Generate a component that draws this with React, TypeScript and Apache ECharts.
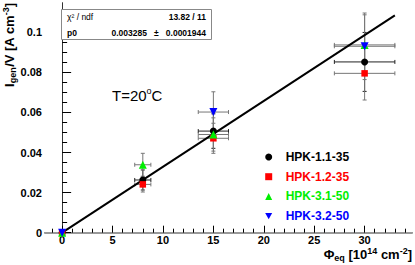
import React, { useEffect, useRef } from "react";
import * as echarts from "echarts";

// ---------- data ----------
const fluence = [0, 8, 15, 30];
const fluenceErr = [0, 0.8, 1.5, 3];

const seriesNames = ["HPK-1.1-35", "HPK-1.2-35", "HPK-3.1-50", "HPK-3.2-50"];
const seriesColors = ["#000000", "#ff0000", "#00ee00", "#0000ff"];
const errColors = ["#222222", "#777777", "#777777", "#777777"];

const hpk11 = [0, 0.0263, 0.0507, 0.0852];
const hpk11Err = [0, 0.005, 0.0086, 0.0147];
const hpk12 = [0, 0.0241, 0.0471, 0.0795];
const hpk12Err = [0, 0.0038, 0.0075, 0.0133];
const hpk31 = [0, 0.0339, 0.049, 0.0937];
const hpk31Err = [0, 0.0057, 0.0083, 0.015];
const hpk32 = [0, null, 0.0602, 0.093];
const hpk32Err = [0, 0, 0.0101, 0.0166];

const fitX = [0, 33];
const fitY = [0, 0.1084];

const xTickLabels = [0, 5, 10, 15, 20, 25, 30];
const yTickLabels = [0, 0.02, 0.04, 0.06, 0.08, 0.1];

const FONT = "'Liberation Sans', Arial, Helvetica, sans-serif";

const X_MIN = -1.7;
const X_MAX = 34.7;
const Y_MIN = 0;
const Y_MAX = 0.1146;

export default function App() {
  const ref = useRef<HTMLDivElement>(null);

  useEffect(() => {
    const chart = echarts.init(ref.current!, null, { renderer: "svg" });

    const ys = [hpk11, hpk12, hpk31, hpk32];
    const errs = [hpk11Err, hpk12Err, hpk31Err, hpk32Err];
    const symbols = ["circle", "rect", "triangle", "path://M0,0L10,0L5,9Z"];
    const symbolSizes = [7, 6.5, 8, 8];

    const xMinor: number[] = [];
    for (let v = -1; v <= 34; v++) if (v % 5 !== 0) xMinor.push(v);
    const yMinor: number[] = [];
    for (let k = 1; k <= 22; k++) if (k % 4 !== 0) yMinor.push(+(k * 0.005).toFixed(3));

    const errSeries = ys.map((yv, si) => ({
      type: "custom",
      name: seriesNames[si] + "-err",
      xAxisIndex: 0,
      yAxisIndex: 0,
      silent: true,
      z: 1,
      data: fluence
        .map((x, i) => [x, yv[i], fluenceErr[i], errs[si][i]])
        .filter((d) => d[1] !== null),
      encode: { x: 0, y: 1 },
      renderItem: (params: any, api: any) => {
        const x = api.value(0);
        const y = api.value(1);
        const xe = api.value(2);
        const ye = api.value(3);
        const children: any[] = [];
        const style = { stroke: errColors[si], lineWidth: 1 };
        const cap = 2;
        if (xe > 0) {
          const l = api.coord([x - xe, y]);
          const r = api.coord([x + xe, y]);
          children.push({ type: "line", shape: { x1: l[0], y1: l[1], x2: r[0], y2: r[1] }, style });
          children.push({ type: "line", shape: { x1: l[0], y1: l[1] - cap, x2: l[0], y2: l[1] + cap }, style });
          children.push({ type: "line", shape: { x1: r[0], y1: r[1] - cap, x2: r[0], y2: r[1] + cap }, style });
        }
        if (ye > 0) {
          const t = api.coord([x, y + ye]);
          const b = api.coord([x, y - ye]);
          children.push({ type: "line", shape: { x1: t[0], y1: t[1], x2: b[0], y2: b[1] }, style });
          children.push({ type: "line", shape: { x1: t[0] - cap, y1: t[1], x2: t[0] + cap, y2: t[1] }, style });
          children.push({ type: "line", shape: { x1: b[0] - cap, y1: b[1], x2: b[0] + cap, y2: b[1] }, style });
        }
        return { type: "group", children };
      },
    }));

    const fitSeries = {
      type: "line",
      name: "fit",
      xAxisIndex: 0,
      yAxisIndex: 0,
      z: 2,
      showSymbol: false,
      silent: true,
      data: fitX.map((x, i) => [x, fitY[i]]),
      lineStyle: { color: "#000", width: 2 },
    };

    const pointSeries = ys.map((yv, si) => ({
      type: "scatter",
      name: seriesNames[si],
      xAxisIndex: 0,
      yAxisIndex: 0,
      z: 3,
      symbol: symbols[si],
      symbolSize: symbolSizes[si],
      itemStyle: { color: seriesColors[si], opacity: 1 },
      data: fluence.map((x, i) => [x, yv[i]]).filter((d) => d[1] !== null),
    }));

    const richMain = (size: number, weight: string) => ({
      m: { fontSize: size, fontWeight: weight, fontFamily: FONT, lineHeight: 16, fill: "#000" },
      s: { fontSize: 9, fontWeight: weight, fontFamily: FONT, lineHeight: 10, verticalAlign: "bottom" },
      p: { fontSize: 9, fontWeight: weight, fontFamily: FONT, lineHeight: 10, verticalAlign: "top" },
    });

    const option: any = {
      animation: false,
      backgroundColor: "#ffffff",
      grid: { left: 45, right: 3, top: 3, bottom: 32.3, containLabel: false },
      xAxis: [
        {
          type: "value",
          min: X_MIN,
          max: X_MAX,
          position: "bottom",
          axisLine: { show: true, lineStyle: { color: "#000", width: 1 } },
          axisTick: { show: true, inside: true, length: 7, customValues: xTickLabels, lineStyle: { color: "#000" } },
          axisLabel: {
            show: true,
            customValues: xTickLabels,
            margin: 2,
            fontSize: 11,
            fontWeight: "bold",
            fontFamily: FONT,
            color: "#000",
          },
          splitLine: { show: false },
        },
        {
          type: "value",
          min: X_MIN,
          max: X_MAX,
          position: "bottom",
          axisLine: { show: false },
          axisTick: { show: true, inside: true, length: 4, customValues: xMinor, lineStyle: { color: "#000" } },
          axisLabel: { show: false },
          splitLine: { show: false },
        },
        {
          type: "value",
          min: X_MIN,
          max: X_MAX,
          position: "top",
          axisLine: { show: true, lineStyle: { color: "#999", width: 2 } },
          axisTick: { show: false },
          axisLabel: { show: false },
          splitLine: { show: false },
        },
      ],
      yAxis: [
        {
          type: "value",
          min: Y_MIN,
          max: Y_MAX,
          position: "left",
          axisLine: { show: true, lineStyle: { color: "#000", width: 1 } },
          axisTick: { show: true, inside: true, length: 9, customValues: yTickLabels, lineStyle: { color: "#000" } },
          axisLabel: {
            show: true,
            customValues: yTickLabels,
            margin: 3,
            fontSize: 11,
            fontWeight: "bold",
            fontFamily: FONT,
            color: "#000",
            formatter: (v: number) => String(+Number(v).toFixed(3)),
          },
          splitLine: { show: false },
        },
        {
          type: "value",
          min: Y_MIN,
          max: Y_MAX,
          position: "left",
          axisLine: { show: false },
          axisTick: { show: true, inside: true, length: 5, customValues: yMinor, lineStyle: { color: "#000" } },
          axisLabel: { show: false },
          splitLine: { show: false },
        },
        {
          type: "value",
          min: Y_MIN,
          max: Y_MAX,
          position: "right",
          axisLine: { show: true, lineStyle: { color: "#333", width: 1 } },
          axisTick: { show: false },
          axisLabel: { show: false },
          splitLine: { show: false },
        },
      ],
      legend: {
        show: true,
        orient: "vertical",
        left: 260.2,
        top: 145,
        itemWidth: 7,
        itemHeight: 7,
        itemGap: 5.7,
        selectedMode: false,
        textStyle: {
          fontSize: 12,
          fontWeight: "bold",
          fontFamily: FONT,
          lineHeight: 14,
          padding: [0, 0, 0, 8.5],
        },
        data: seriesNames.map((n, i) => ({
          name: n,
          icon: symbols[i],
          itemStyle: { color: seriesColors[i] },
          textStyle: { color: seriesColors[i] },
        })),
      },
      graphic: [
        {
          type: "rect",
          shape: { x: 61.5, y: 9.5, width: 150, height: 30 },
          style: { fill: "#fff", stroke: "#888", lineWidth: 1 },
          z: 10,
        },
        {
          type: "text",
          x: 67,
          y: 16.5,
          z: 11,
          style: { text: "χ² / ndf", fontSize: 8.5, fontFamily: FONT, fill: "#000", align: "left", verticalAlign: "middle" },
        },
        {
          type: "text",
          x: 206,
          y: 16.5,
          z: 11,
          style: { text: "13.82 / 11", fontSize: 8.5, fontWeight: "bold", fontFamily: FONT, fill: "#000", align: "right", verticalAlign: "middle" },
        },
        {
          type: "text",
          x: 67,
          y: 32.5,
          z: 11,
          style: { text: "p0", fontSize: 8.5, fontWeight: "bold", fontFamily: FONT, fill: "#000", align: "left", verticalAlign: "middle" },
        },
        {
          type: "text",
          x: 206,
          y: 32.5,
          z: 11,
          style: { text: "0.003285   ±   0.0001944", fontSize: 8.5, fontWeight: "bold", fontFamily: FONT, fill: "#000", align: "right", verticalAlign: "middle" },
        },
        {
          type: "text",
          x: 112,
          y: 95,
          z: 11,
          style: {
            text: "{m|T=20}{p|o}{m|C}",
            align: "left",
            verticalAlign: "middle",
            rich: {
              m: { fontSize: 15, fontFamily: FONT, lineHeight: 18, fill: "#000" },
              p: { fontSize: 9, fontFamily: FONT, lineHeight: 11, verticalAlign: "top", fill: "#000" },
            },
          },
        },
        {
          type: "text",
          x: 412,
          y: 254.5,
          z: 11,
          style: {
            text: "{m|Φ}{s|eq}{m| [10}{p|14}{m| cm}{p|-2}{m|]}",
            align: "right",
            verticalAlign: "middle",
            rich: richMain(13, "bold"),
          },
        },
        {
          type: "text",
          x: 9.5,
          y: 3,
          rotation: Math.PI / 2,
          z: 11,
          style: {
            text: "{m|I}{s|gen}{m|/V [A cm}{p|-3}{m|]}",
            align: "right",
            verticalAlign: "middle",
            rich: richMain(13, "bold"),
          },
        },
      ],
      series: [...errSeries, fitSeries, ...pointSeries],
    };

    chart.setOption(option);
    return () => chart.dispose();
  }, []);

  return (
    <div
      ref={ref}
      style={{ position: "fixed", left: 0, top: 0, width: 415, height: 265, background: "#fff" }}
    />
  );
}
